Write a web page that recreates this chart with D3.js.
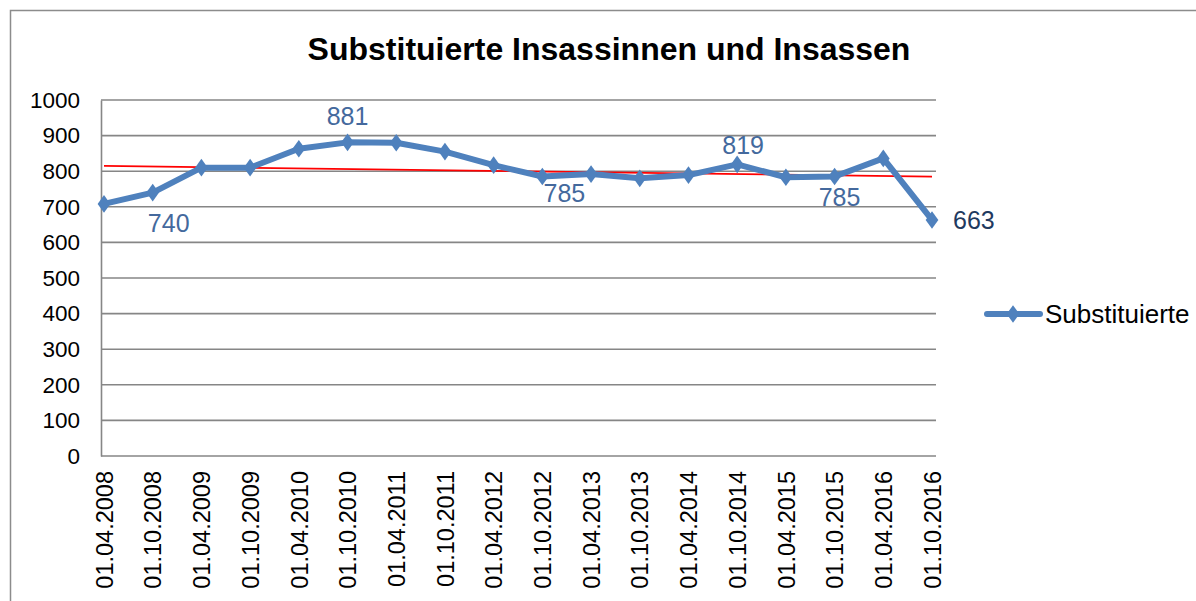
<!DOCTYPE html>
<html>
<head>
<meta charset="utf-8">
<script src="https://cdn.jsdelivr.net/npm/d3@7"></script>
<style>
  html, body { margin: 0; padding: 0; background: #fff; }
  svg { display: block; }
</style>
</head>
<body>
<svg id="chart" width="1196" height="601"></svg>
<script>
// Stichtage (Halbjahr) und Anzahl substituierter Insassinnen und Insassen
const dates = [
  "01.04.2008", "01.10.2008", "01.04.2009", "01.10.2009", "01.04.2010", "01.10.2010",
  "01.04.2011", "01.10.2011", "01.04.2012", "01.10.2012", "01.04.2013", "01.10.2013",
  "01.04.2014", "01.10.2014", "01.04.2015", "01.10.2015", "01.04.2016", "01.10.2016"
];
const substituierte = [708, 740, 810, 810, 863, 881, 880, 855, 817, 785, 792, 780, 789, 819, 783, 785, 836, 663];
const yTicks = [0, 100, 200, 300, 400, 500, 600, 700, 800, 900, 1000];

// Beschriftete Punkte (Index) mit Versatz der Beschriftung zum Punkt
const labelled = [
  { i: 1, dx: 16, dy: 39, anchor: "middle" },
  { i: 5, dx: 0, dy: -17, anchor: "middle" },
  { i: 9, dx: 22, dy: 25, anchor: "middle" },
  { i: 13, dx: 6, dy: -10, anchor: "middle" },
  { i: 15, dx: 5, dy: 29, anchor: "middle" },
  { i: 17, dx: 21, dy: 9, anchor: "start" }
];

const FONT = "Arial, 'Liberation Sans', sans-serif";
const svg = d3.select("#chart");
const plot = { left: 101, right: 936, top: 100, bottom: 456 };

// Außenrahmen
svg.append("rect")
  .attr("x", 10.5).attr("y", 10.5)
  .attr("width", 1200).attr("height", 620)
  .attr("fill", "none").attr("stroke", "#8c8c8c").attr("stroke-width", 1.5);

// Titel
svg.append("text")
  .attr("x", 609).attr("y", 60)
  .attr("text-anchor", "middle")
  .attr("font-family", FONT)
  .attr("font-size", 32).attr("font-weight", "bold")
  .attr("fill", "#000")
  .text("Substituierte Insassinnen und Insassen");

const x = d3.scalePoint().domain(dates).range([104, 932]);
const y = d3.scaleLinear().domain([0, 1000]).range([plot.bottom, plot.top]);

// Gitterlinien
svg.append("g")
  .selectAll("line")
  .data(yTicks)
  .join("line")
  .attr("x1", plot.left).attr("x2", plot.right)
  .attr("y1", d => y(d)).attr("y2", d => y(d))
  .attr("stroke", "#868686").attr("stroke-width", 1.6);

// Y-Achse
const yAxis = svg.append("g")
  .attr("transform", `translate(${plot.left},0)`)
  .call(d3.axisLeft(y).tickValues(yTicks).tickFormat(d3.format("d")).tickSize(0).tickPadding(21));
yAxis.attr("font-size", null).attr("font-family", null);
yAxis.select(".domain").attr("stroke", "#868686").attr("stroke-width", 1.6);
yAxis.selectAll("text")
  .attr("font-size", 22.5).attr("fill", "#000")
  .attr("font-family", FONT);

// X-Achse mit senkrechten Datumsbeschriftungen
const xAxis = svg.append("g")
  .attr("transform", `translate(0,${plot.bottom})`)
  .call(d3.axisBottom(x).tickSize(0).tickPadding(0));
xAxis.attr("font-size", null).attr("font-family", null);
xAxis.select(".domain").remove();
xAxis.selectAll("text")
  .attr("font-size", 23.5).attr("fill", "#000")
  .attr("font-family", FONT)
  .attr("text-anchor", "end")
  .attr("dy", "0.35em")
  .attr("x", 0).attr("y", 0)
  .attr("transform", "translate(0,15) rotate(-90)");

// Lineare Trendlinie (kleinste Quadrate)
const n = substituierte.length;
const idx = d3.range(n);
const mx = d3.mean(idx), my = d3.mean(substituierte);
const slope = d3.sum(idx, i => (i - mx) * (substituierte[i] - my)) / d3.sum(idx, i => (i - mx) ** 2);
const intercept = my - slope * mx;
svg.append("line")
  .attr("x1", x(dates[0])).attr("y1", y(intercept))
  .attr("x2", x(dates[n - 1])).attr("y2", y(intercept + slope * (n - 1)))
  .attr("stroke", "#ff0000").attr("stroke-width", 1.8);

// Datenreihe
const line = d3.line()
  .x((d, i) => x(dates[i]))
  .y(d => y(d));
svg.append("path")
  .datum(substituierte)
  .attr("d", line)
  .attr("fill", "none")
  .attr("stroke", "#4f81bd").attr("stroke-width", 6)
  .attr("stroke-linejoin", "round").attr("stroke-linecap", "round");

const diamond = d3.symbol().type(d3.symbolDiamond).size(90);
svg.append("g")
  .selectAll("path")
  .data(substituierte)
  .join("path")
  .attr("d", diamond)
  .attr("transform", (d, i) => `translate(${x(dates[i])},${y(d)}) scale(1.25,1)`)
  .attr("fill", "#4f81bd");

// Datenbeschriftungen
svg.append("g")
  .selectAll("text")
  .data(labelled)
  .join("text")
  .attr("x", d => x(dates[d.i]) + d.dx)
  .attr("y", d => y(substituierte[d.i]) + d.dy)
  .attr("text-anchor", d => d.anchor)
  .attr("font-family", FONT)
  .attr("font-size", 25)
  .attr("fill", d => d.anchor === "start" ? "#1f3a60" : "#44699d")
  .text(d => substituierte[d.i]);

// Legende
const legend = svg.append("g").attr("transform", "translate(987,314)");
legend.append("line")
  .attr("x1", 0).attr("x2", 53).attr("y1", 0).attr("y2", 0)
  .attr("stroke", "#4f81bd").attr("stroke-width", 6).attr("stroke-linecap", "round");
legend.append("path")
  .attr("d", diamond)
  .attr("transform", "translate(26,0) scale(1.25,1)")
  .attr("fill", "#4f81bd");
legend.append("text")
  .attr("x", 58).attr("y", 9)
  .attr("font-family", FONT)
  .attr("font-size", 26).attr("fill", "#000")
  .text("Substituierte");
</script>
</body>
</html>
